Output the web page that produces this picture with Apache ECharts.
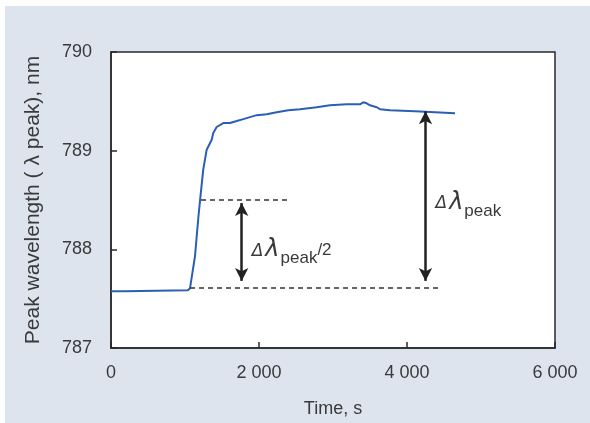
<!DOCTYPE html>
<html>
<head>
<meta charset="utf-8">
<script src="https://cdn.jsdelivr.net/npm/echarts@6/dist/echarts.min.js"></script>
<style>
  html, body { margin: 0; padding: 0; background: #fff; }
  #wrap { width: 590px; height: 423px; position: relative; background: #fff; }
  #chart { position: absolute; left: 5px; top: 6px; width: 585px; height: 417px; background: #dde4ee; }
</style>
</head>
<body>
<div id="wrap"><div id="chart"></div></div>
<script>
// time (s) and peak wavelength (nm)
const timeS = [0, 189, 216, 1040, 1068, 1135, 1180, 1212, 1247, 1293, 1361, 1382, 1428, 1518, 1608,
  1699, 1788, 1878, 1969, 2104, 2239, 2396, 2554, 2780, 2959, 3185, 3365, 3409, 3455, 3500,
  3591, 3635, 3770, 4108, 4131, 4649];
const peakNm = [787.576, 787.576, 787.586, 787.586, 787.606, 787.93, 788.32, 788.56, 788.81, 789.01,
  789.11, 789.18, 789.24, 789.28, 789.28, 789.30, 789.32, 789.34, 789.36, 789.37, 789.39, 789.41,
  789.42, 789.44, 789.46, 789.47, 789.47, 789.49, 789.48, 789.46, 789.44, 789.42, 789.41, 789.40,
  789.39, 789.38];

const xTickLabels = ['0', '2 000', '4 000', '6 000'];
const yTickLabels = ['787', '788', '789', '790'];

// annotation levels (data units)
const dashLow = [[1068, 787.606], [4446, 787.606]];
const dashHalf = [[1216, 788.505], [2419, 788.505]];
const arrowHalf = [[1766, 788.47], [1766, 787.68]];
const arrowFull = [[4250, 789.40], [4250, 787.68]];
const labelHalf = [1766, 787.97];
const labelFull = [4250, 788.45];

const chart = echarts.init(document.getElementById('chart'));

const txt = '#3a3a3a';
const axisCol = '#2a2a2a';
const richLbl = {
  d: { fontSize: 17, fontStyle: 'italic', color: txt, fontFamily: 'DejaVu Sans', verticalAlign: 'top', padding: [5, 0, 0, 0] },
  l: { fontSize: 24, fontStyle: 'italic', color: txt, fontFamily: 'DejaVu Sans', verticalAlign: 'top', padding: [0, 1, 0, 2] },
  s: { fontSize: 17, color: txt, fontFamily: 'Liberation Sans', verticalAlign: 'top', padding: [12, 0, 0, 0] },
  n: { fontSize: 17, color: txt, fontFamily: 'Liberation Sans', verticalAlign: 'top', padding: [4, 0, 0, 0] }
};

const option = {
  animation: false,
  grid: {
    left: 106, right: 35, top: 46, bottom: 74,
    show: true, backgroundColor: '#fff', borderColor: axisCol, borderWidth: 1.5
  },
  textStyle: { fontFamily: 'Liberation Sans' },
  xAxis: {
    type: 'value', min: 0, max: 6000, interval: 2000,
    name: 'Time, s', nameLocation: 'middle', nameGap: 52,
    nameTextStyle: { fontSize: 18, color: txt },
    axisLine: { show: true, lineStyle: { color: axisCol, width: 1.5 } },
    axisTick: { show: true, inside: true, length: 6, lineStyle: { color: axisCol, width: 1.5 } },
    splitLine: { show: false },
    axisLabel: {
      fontSize: 18, color: txt, margin: 16,
      formatter: v => xTickLabels[Math.round(v / 2000)]
    }
  },
  yAxis: {
    type: 'value', min: 787, max: 790, interval: 1,
    name: 'Peak wavelength ( λ peak), nm', nameLocation: 'middle', nameGap: 67,
    nameTextStyle: { fontSize: 21, color: txt },
    axisLine: { show: true, lineStyle: { color: axisCol, width: 1.5 } },
    axisTick: { show: true, inside: true, length: 6, lineStyle: { color: axisCol, width: 1.5 } },
    splitLine: { show: false },
    axisLabel: {
      fontSize: 18, color: txt, margin: 19,
      formatter: v => yTickLabels[Math.round(v - 787)]
    }
  },
  series: [
    {
      type: 'line',
      data: timeS.map((t, i) => [t, peakNm[i]]),
      showSymbol: false,
      lineStyle: { color: '#2b5fb4', width: 2 },
      markLine: {
        silent: true,
        animation: false,
        label: { show: false },
        data: [
          [{ coord: dashLow[0], symbol: 'none' }, { coord: dashLow[1], symbol: 'none',
            lineStyle: { type: [5, 4], color: '#333', width: 1.5 } }],
          [{ coord: dashHalf[0], symbol: 'none' }, { coord: dashHalf[1], symbol: 'none',
            lineStyle: { type: [5, 4], color: '#333', width: 1.5 } }],
          [{ coord: arrowHalf[0], symbol: 'arrow', symbolSize: [10, 13] },
           { coord: arrowHalf[1], symbol: 'arrow', symbolSize: [10, 13],
             lineStyle: { type: 'solid', color: '#222', width: 2.5 } }],
          [{ coord: arrowFull[0], symbol: 'arrow', symbolSize: [10, 13] },
           { coord: arrowFull[1], symbol: 'arrow', symbolSize: [10, 13],
             lineStyle: { type: 'solid', color: '#222', width: 2.5 } }]
        ]
      },
      markPoint: {
        silent: true,
        symbol: 'circle', symbolSize: 0,
        data: [
          { coord: labelHalf, label: { show: true, position: 'right', distance: 10,
            formatter: '{d|Δ}{l|λ}{s|peak}{n|/2}', rich: richLbl } },
          { coord: labelFull, label: { show: true, position: 'right', distance: 10,
            formatter: '{d|Δ}{l|λ}{s|peak}', rich: richLbl } }
        ]
      }
    }
  ]
};

chart.setOption(option);
</script>
</body>
</html>
